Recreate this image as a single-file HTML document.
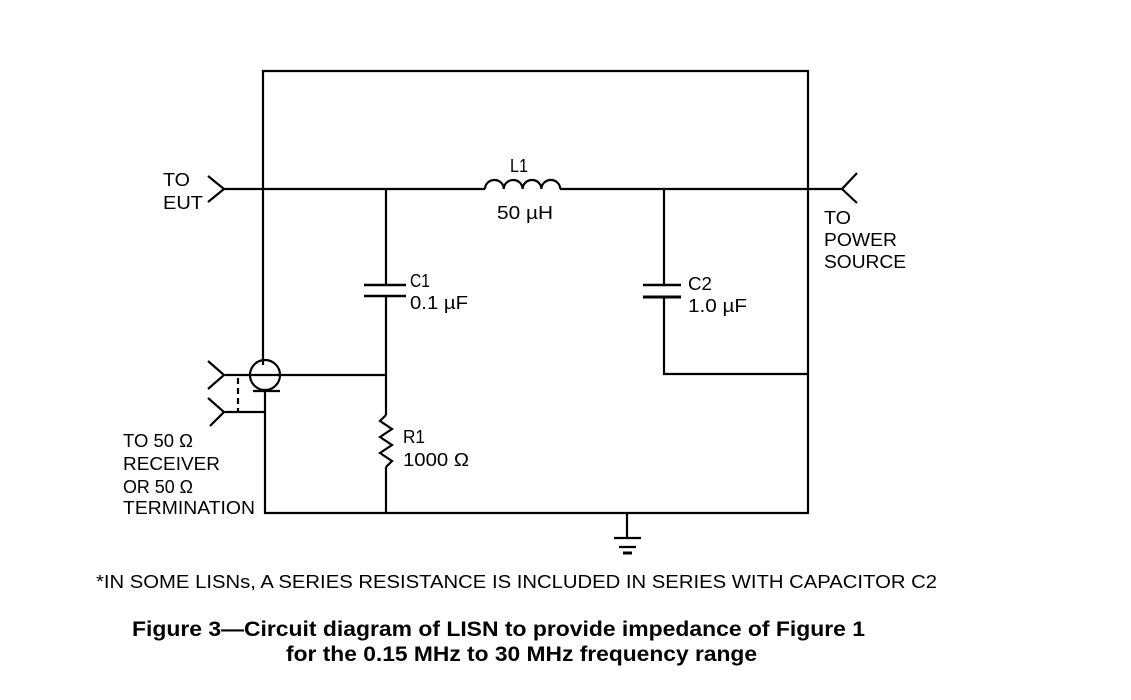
<!DOCTYPE html>
<html><head><style>
body{margin:0;background:#fff;width:1131px;height:700px;overflow:hidden}
svg{position:absolute;left:0;top:0}
text{font-family:"Liberation Sans",sans-serif;font-size:18px;fill:#000}
</style></head><body>
<svg width="1131" height="700" viewBox="0 0 1131 700">
<g stroke="#000" stroke-width="2.2" fill="none">
<polyline points="263,365 263,71 808,71 808,513 265,513 265,392"/>
<line x1="224" y1="189" x2="485" y2="189"/>
<line x1="560" y1="189" x2="842" y2="189"/>
<path d="M485,189 a9.4,9 0 0 1 18.8,0 a9.4,9 0 0 1 18.8,0 a9.4,9 0 0 1 18.8,0 a9.4,9 0 0 1 18.8,0"/>
<polyline points="208,176 224,189 208,202"/>
<polyline points="857,173 842,189 857,203"/>
<line x1="386" y1="189" x2="386" y2="285"/>
<line x1="364" y1="285" x2="406" y2="285" stroke-width="2.5"/>
<line x1="364" y1="296" x2="406" y2="296" stroke-width="2.5"/>
<line x1="386" y1="296" x2="386" y2="415"/>
<polyline points="386,415 380,421 392,429 380,437 392,445 380,453 392,461 386,467"/>
<line x1="386" y1="467" x2="386" y2="513"/>
<line x1="664" y1="189" x2="664" y2="285"/>
<line x1="643" y1="285" x2="681" y2="285" stroke-width="2.5"/>
<line x1="643" y1="297" x2="681" y2="297" stroke-width="3"/>
<polyline points="664,297 664,374 808,374"/>
<circle cx="265" cy="375" r="15"/>
<line x1="253" y1="391" x2="280" y2="391"/>
<line x1="225" y1="375" x2="386" y2="375"/>
<line x1="225" y1="412" x2="265" y2="412"/>
<polyline points="208,361 224,375 208,389"/>
<polyline points="208,398 224,412 210,426"/>
<line x1="238" y1="378" x2="238" y2="412" stroke-dasharray="6,4"/>
<line x1="627" y1="513" x2="627" y2="538"/>
<line x1="614" y1="538" x2="641" y2="538"/>
<line x1="619" y1="547" x2="636" y2="547"/>
<line x1="623" y1="553" x2="632" y2="553" stroke-width="3"/>
</g>
<text x="163" y="186" textLength="27" lengthAdjust="spacingAndGlyphs">TO</text>
<text x="163" y="209" textLength="40" lengthAdjust="spacingAndGlyphs">EUT</text>
<text x="510" y="172" textLength="18" lengthAdjust="spacingAndGlyphs">L1</text>
<text x="497" y="219" textLength="56" lengthAdjust="spacingAndGlyphs">50 µH</text>
<text x="824" y="224" textLength="27" lengthAdjust="spacingAndGlyphs">TO</text>
<text x="824" y="246" textLength="73" lengthAdjust="spacingAndGlyphs">POWER</text>
<text x="824" y="268" textLength="82" lengthAdjust="spacingAndGlyphs">SOURCE</text>
<text x="410" y="287" textLength="20" lengthAdjust="spacingAndGlyphs">C1</text>
<text x="410" y="309" textLength="58" lengthAdjust="spacingAndGlyphs">0.1 µF</text>
<text x="688" y="290" textLength="24" lengthAdjust="spacingAndGlyphs">C2</text>
<text x="688" y="312" textLength="59" lengthAdjust="spacingAndGlyphs">1.0 µF</text>
<text x="403" y="443" textLength="22" lengthAdjust="spacingAndGlyphs">R1</text>
<text x="403" y="466" textLength="66" lengthAdjust="spacingAndGlyphs">1000 Ω</text>
<text x="123" y="447" textLength="70" lengthAdjust="spacingAndGlyphs">TO 50 Ω</text>
<text x="123" y="470" textLength="97" lengthAdjust="spacingAndGlyphs">RECEIVER</text>
<text x="123" y="493" textLength="70" lengthAdjust="spacingAndGlyphs">OR 50 Ω</text>
<text x="123" y="514" textLength="132" lengthAdjust="spacingAndGlyphs">TERMINATION</text>
<text x="96" y="588" textLength="841" lengthAdjust="spacingAndGlyphs">*IN SOME LISNs, A SERIES RESISTANCE IS INCLUDED IN SERIES WITH CAPACITOR C2</text>
<text x="132" y="636" textLength="733" lengthAdjust="spacingAndGlyphs" style="font-weight:bold;font-size:21px">Figure 3—Circuit diagram of LISN to provide impedance of Figure 1</text>
<text x="286" y="661" textLength="471" lengthAdjust="spacingAndGlyphs" style="font-weight:bold;font-size:21px">for the 0.15 MHz to 30 MHz frequency range</text>
</svg>
</body></html>
